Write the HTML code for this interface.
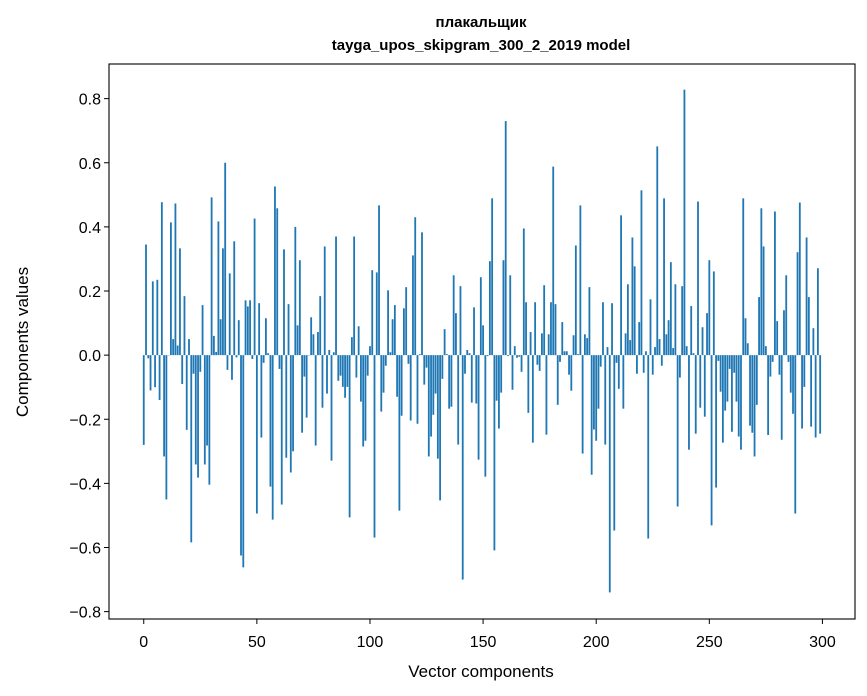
<!DOCTYPE html>
<html><head><meta charset="utf-8"><style>
html,body{margin:0;padding:0;background:#fff;}
svg{display:block;font-family:"Liberation Sans","DejaVu Sans",sans-serif;}
</style></head><body>
<svg id="chart" width="867" height="696" viewBox="0 0 867 696" xmlns="http://www.w3.org/2000/svg">
<text x="481" y="27" text-anchor="middle" font-size="15" font-weight="bold">плакальщик</text>
<text x="481" y="50" text-anchor="middle" font-size="15" font-weight="bold">tayga_upos_skipgram_300_2_2019 model</text>
<g id="bars"></g>
<g id="xaxis"></g>
<g id="yaxis"></g>
<rect x="109" y="64" width="746" height="555" fill="none" stroke="#000" stroke-width="1.1"/>
<text x="481" y="677" text-anchor="middle" font-size="17">Vector components</text>
<text x="28" y="342" text-anchor="middle" font-size="17" transform="rotate(-90 28 342)">Components values</text>
</svg>
<script>
const values = [
-0.28,0.345,-0.01,-0.11,0.23,-0.10,0.235,-0.14,0.477,-0.316,
-0.45,0.0,0.414,0.05,0.473,0.03,0.333,-0.09,0.184,-0.233,
0.05,-0.584,-0.058,-0.341,-0.382,-0.052,0.156,-0.341,-0.282,-0.404,
0.492,0.06,0.01,0.417,0.112,0.333,0.60,-0.046,0.255,-0.077,
0.355,-0.007,0.109,-0.625,-0.662,0.171,0.152,0.171,-0.012,0.426,
-0.494,0.162,-0.257,-0.024,0.115,0.006,-0.41,-0.513,0.526,0.458,
-0.043,-0.466,0.33,-0.32,0.159,-0.366,-0.30,0.40,0.093,0.296,
-0.242,-0.067,-0.195,0.0,0.118,0.065,-0.282,0.072,0.184,-0.164,
0.339,-0.12,0.016,-0.329,0.009,0.37,-0.08,-0.064,-0.099,-0.133,
-0.099,-0.506,0.056,0.37,-0.07,0.09,-0.145,-0.285,-0.267,-0.064,
0.028,0.265,-0.569,0.258,0.467,-0.176,-0.117,-0.033,0.202,0.009,
0.112,0.156,-0.13,-0.485,-0.189,0.146,0.212,-0.027,-0.204,0.311,
0.43,-0.214,0.003,0.383,-0.092,-0.039,-0.316,-0.254,-0.186,-0.12,
-0.323,-0.453,-0.074,0.081,0.003,-0.167,-0.161,0.249,0.131,-0.279,
0.215,-0.70,-0.058,0.016,0.006,-0.148,0.149,-0.151,-0.326,0.243,
0.093,-0.379,-0.003,0.293,0.489,-0.609,-0.142,-0.229,-0.117,0.296,
0.73,-0.003,0.249,-0.108,0.028,-0.008,-0.005,-0.052,0.395,0.165,
-0.18,0.072,-0.273,0.165,-0.03,-0.049,0.068,0.218,-0.248,0.065,
0.165,0.588,0.159,-0.155,-0.021,0.103,0.012,0.012,-0.061,-0.111,
0.062,0.342,0.003,0.467,-0.307,0.065,0.053,0.212,-0.373,-0.232,
-0.267,-0.167,-0.036,0.165,-0.279,0.025,-0.74,0.162,-0.547,-0.024,
-0.105,0.436,-0.167,0.068,0.221,0.047,0.367,0.277,-0.058,0.103,
0.514,-0.055,0.012,-0.572,0.174,-0.061,0.025,0.651,0.05,-0.033,
0.489,0.065,0.109,0.29,0.022,0.221,-0.472,-0.07,0.215,0.828,
0.028,-0.295,0.153,0.006,-0.245,0.479,-0.164,0.087,-0.192,0.131,
0.296,-0.531,0.261,-0.413,-0.018,-0.114,-0.273,-0.173,-0.145,-0.043,
-0.239,-0.055,-0.145,-0.254,-0.295,0.489,0.115,0.037,-0.22,-0.242,
-0.316,-0.155,0.181,0.458,0.339,0.028,-0.249,-0.067,-0.021,0.448,
0.106,-0.061,-0.264,0.14,0.249,-0.021,-0.117,-0.183,-0.494,0.321,
0.476,-0.229,-0.099,0.367,0.181,-0.223,0.084,-0.257,0.271,-0.245
];
const xTicks = [0,50,100,150,200,250,300];
const yTicks = [-0.8,-0.6,-0.4,-0.2,0.0,0.2,0.4,0.6,0.8];
const yTickLabels = ["\u22120.8","\u22120.6","\u22120.4","\u22120.2","0.0","0.2","0.4","0.6","0.8"];

const NS = "http://www.w3.org/2000/svg";
const L = 109, R = 855, T = 64, B = 619;
const xMin = -15.36, xMax = 314.4;
const yMin = -0.823, yMax = 0.908;
function xs(v){ return L + (v - xMin) * (R - L) / (xMax - xMin); }
function ys(v){ return B - (v - yMin) * (B - T) / (yMax - yMin); }
const bw = 0.8 * (R - L) / (xMax - xMin);

const barsG = document.getElementById('bars');
values.forEach(function(v, i){
  const r = document.createElementNS(NS, 'rect');
  
  
  const y0 = ys(0), y1 = ys(v);
  r.setAttribute('x', (xs(i) - bw/2).toFixed(2));
  r.setAttribute('y', Math.min(y0, y1).toFixed(2));
  r.setAttribute('width', bw.toFixed(2));
  r.setAttribute('height', Math.max(Math.abs(y1 - y0), 0.3).toFixed(2));
  r.setAttribute('fill', '#1f77b4');
  barsG.appendChild(r);
});

const xg = document.getElementById('xaxis');
xTicks.forEach(function(t){
  const ln = document.createElementNS(NS, 'line');
  
  
  ln.setAttribute('x1', xs(t)); ln.setAttribute('x2', xs(t));
  ln.setAttribute('y1', B); ln.setAttribute('y2', B + 5);
  ln.setAttribute('stroke', '#000'); ln.setAttribute('stroke-width', '1');
  xg.appendChild(ln);
  const tx = document.createElementNS(NS, 'text');
  
  
  tx.setAttribute('x', xs(t)); tx.setAttribute('y', B + 28);
  tx.setAttribute('text-anchor', 'middle'); tx.setAttribute('font-size', '16');
  tx.textContent = String(t);
  xg.appendChild(tx);
});

const yg = document.getElementById('yaxis');
yTicks.forEach(function(t, k){
  const ln = document.createElementNS(NS, 'line');
  
  
  ln.setAttribute('x1', L - 5); ln.setAttribute('x2', L);
  ln.setAttribute('y1', ys(t)); ln.setAttribute('y2', ys(t));
  ln.setAttribute('stroke', '#000'); ln.setAttribute('stroke-width', '1');
  yg.appendChild(ln);
  const tx = document.createElementNS(NS, 'text');
  
  
  tx.setAttribute('x', L - 8); tx.setAttribute('y', ys(t) + 6);
  tx.setAttribute('text-anchor', 'end'); tx.setAttribute('font-size', '16');
  tx.textContent = yTickLabels[k];
  yg.appendChild(tx);
});
</script>
</body></html>
